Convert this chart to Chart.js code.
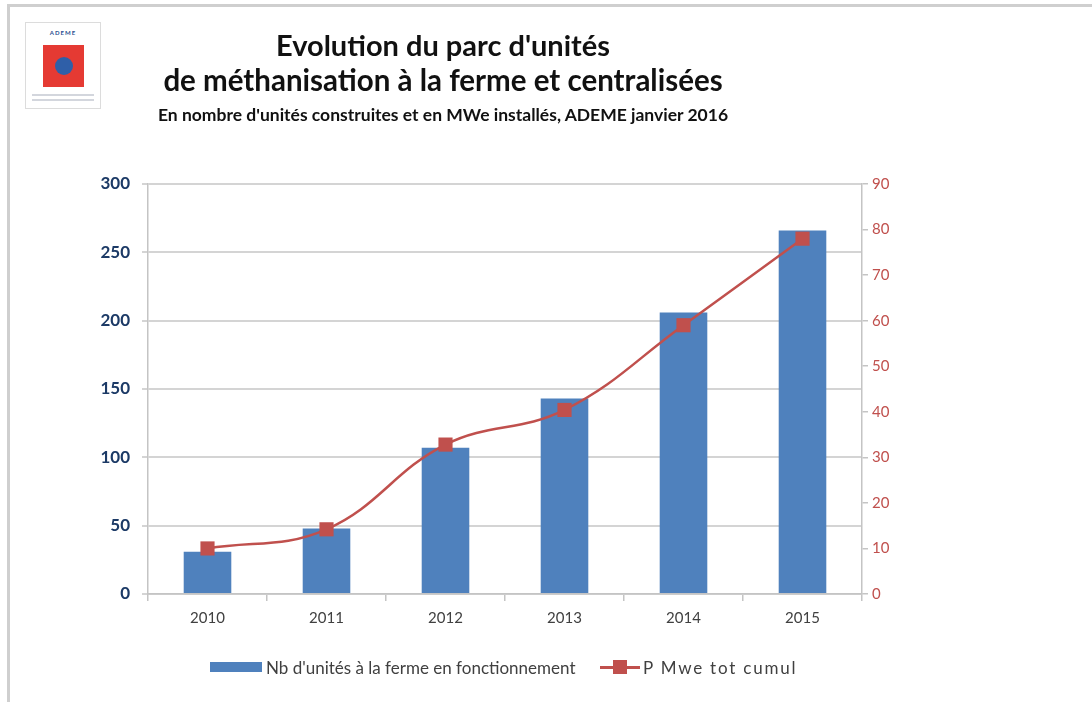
<!DOCTYPE html>
<html lang="fr">
<head>
<meta charset="utf-8">
<title>Evolution du parc d'unités de méthanisation</title>
<script src="https://cdn.jsdelivr.net/npm/chart.js@4.4.1/dist/chart.umd.min.js"></script>
<style>
  html, body { margin: 0; padding: 0; background: #fff; }
  body { width: 1092px; height: 702px; position: relative; overflow: hidden; font-family: Lato, "Open Sans", sans-serif; }
  #frame { position: absolute; left: 7px; top: 4px; right: -10px; bottom: -10px; border-top: 3px solid #cfcfcf; border-left: 3px solid #cfcfcf; }
  #wrap { position: absolute; left: 0; top: 0; width: 1092px; height: 702px; }
  .title { position: absolute; left: 143px; width: 600px; text-align: center; color: #111; font-weight: bold; white-space: nowrap; }
  #t1 { top: 27px; font-size: 29px; }
  #t2 { top: 62px; font-size: 29.5px; }
  #t3 { top: 104px; font-size: 17.5px; }
  #logo { position: absolute; left: 25px; top: 22px; width: 74px; height: 85px; border: 1px solid #dcdcdc; background: #fff; }
  #logo .name { position: absolute; left: 0; width: 74px; top: 6px; text-align: center; font-size: 6px; font-weight: bold; color: #2a4f8f; letter-spacing: 1px; }
  #logo .sq { position: absolute; left: 17px; top: 22px; width: 41px; height: 42px; background: #e53a33; }
  #logo .dot { position: absolute; left: 12px; top: 12px; width: 18px; height: 18px; border-radius: 50%; background: #2f5fa8; }
  #logo .small { position: absolute; left: 6px; width: 62px; height: 2px; background: #d3d6dd; }
  #legend { position: absolute; top: 656px; left: 0; width: 1092px; height: 22px; font-size: 17px; color: #404040; }
  .leg { position: absolute; top: 0; display: flex; align-items: center; height: 22px; white-space: nowrap; }
  .barkey { width: 52px; height: 10px; background: #4f81bd; margin-right: 4px; }
  .linekey { position: relative; width: 40px; height: 14px; margin-right: 3px; }
  .linekey::before { content: ""; position: absolute; left: 0; right: 0; top: 6px; height: 3px; background: #c0504d; }
  .linekey::after { content: ""; position: absolute; left: 13px; top: 0; width: 14px; height: 14px; background: #c0504d; }
  #lab1 { letter-spacing: 1.8px; }
</style>
</head>
<body>
<div id="frame"></div>
<div id="wrap"><canvas id="chart" width="1092" height="702"></canvas></div>

<div id="logo">
  <div class="name">ADEME</div>
  <div class="sq"><div class="dot"></div></div>
  <div class="small" style="top:71px"></div>
  <div class="small" style="top:76px"></div>
</div>

<div class="title" id="t1">Evolution du parc d'unités</div>
<div class="title" id="t2">de méthanisation à la ferme et centralisées</div>
<div class="title" id="t3">En nombre d'unités construites et en MWe installés, ADEME janvier 2016</div>

<div id="legend">
  <div class="leg" style="left:210px"><span class="barkey"></span><span id="lab0"></span></div>
  <div class="leg" style="left:600px"><span class="linekey"></span><span id="lab1"></span></div>
</div>

<script>
// values
const years = ["2010", "2011", "2012", "2013", "2014", "2015"];
const unitsLabel = "Nb d'unités à la ferme en fonctionnement";
const units = [31, 48, 107, 143, 206, 266];
const powerLabel = "P Mwe tot cumul";
const power = [10, 14.2, 32.8, 40.4, 59, 78];
const unitsTicks = [0, 50, 100, 150, 200, 250, 300];
const powerTicks = [0, 10, 20, 30, 40, 50, 60, 70, 80, 90];

document.getElementById("lab0").textContent = unitsLabel;
document.getElementById("lab1").textContent = powerLabel;

const axisGrey = "#c4c4c4";
const font = "Lato, 'Open Sans', sans-serif";

const ctx = document.getElementById("chart").getContext("2d");
new Chart(ctx, {
    data: {
        labels: years,
        datasets: [
            {
                type: "line",
                label: powerLabel,
                data: power,
                yAxisID: "y1",
                order: 0,
                borderColor: "#c0504d",
                backgroundColor: "#c0504d",
                borderWidth: 2.5,
                tension: 0.4,
                pointStyle: "rect",
                pointRadius: 10,
                pointBorderWidth: 0,
            },
            {
                type: "bar",
                label: unitsLabel,
                data: units,
                yAxisID: "y",
                order: 1,
                backgroundColor: "#4f81bd",
                barPercentage: 0.4,
                categoryPercentage: 1,
            },
        ],
    },
    options: {
        responsive: false,
        animation: false,
        layout: { padding: { left: 0, right: 180, top: 184, bottom: 68 } },
        plugins: { legend: { display: false }, tooltip: { enabled: false } },
        scales: {
            x: {
                afterFit: (s) => { s.height = 40; },
                grid: { drawOnChartArea: false, tickLength: 7, color: axisGrey, lineWidth: 1.5 },
                border: { color: axisGrey, width: 1.5 },
                ticks: { color: "#404040", font: { family: font, size: 15 }, padding: 8 },
            },
            y: {
                position: "left",
                min: 0,
                max: 300,
                afterFit: (s) => { s.width = 148; },
                afterBuildTicks: (s) => { s.ticks = unitsTicks.map(v => ({ value: v })); },
                grid: { color: "#d4d4d4", lineWidth: 2, tickLength: 6 },
                border: { color: axisGrey, width: 1.5 },
                ticks: { color: "#1c3a66", font: { family: font, size: 17, weight: "bold" }, padding: 12 },
            },
            y1: {
                position: "right",
                min: 0,
                max: 90,
                afterFit: (s) => { s.width = 50; },
                afterBuildTicks: (s) => { s.ticks = powerTicks.map(v => ({ value: v })); },
                grid: { drawOnChartArea: false, tickLength: 6, color: axisGrey, lineWidth: 1.5 },
                border: { color: axisGrey, width: 1.5 },
                ticks: { color: "#c0504d", font: { family: font, size: 15 }, padding: 4 },
            },
        },
    },
});
</script>
</body>
</html>
